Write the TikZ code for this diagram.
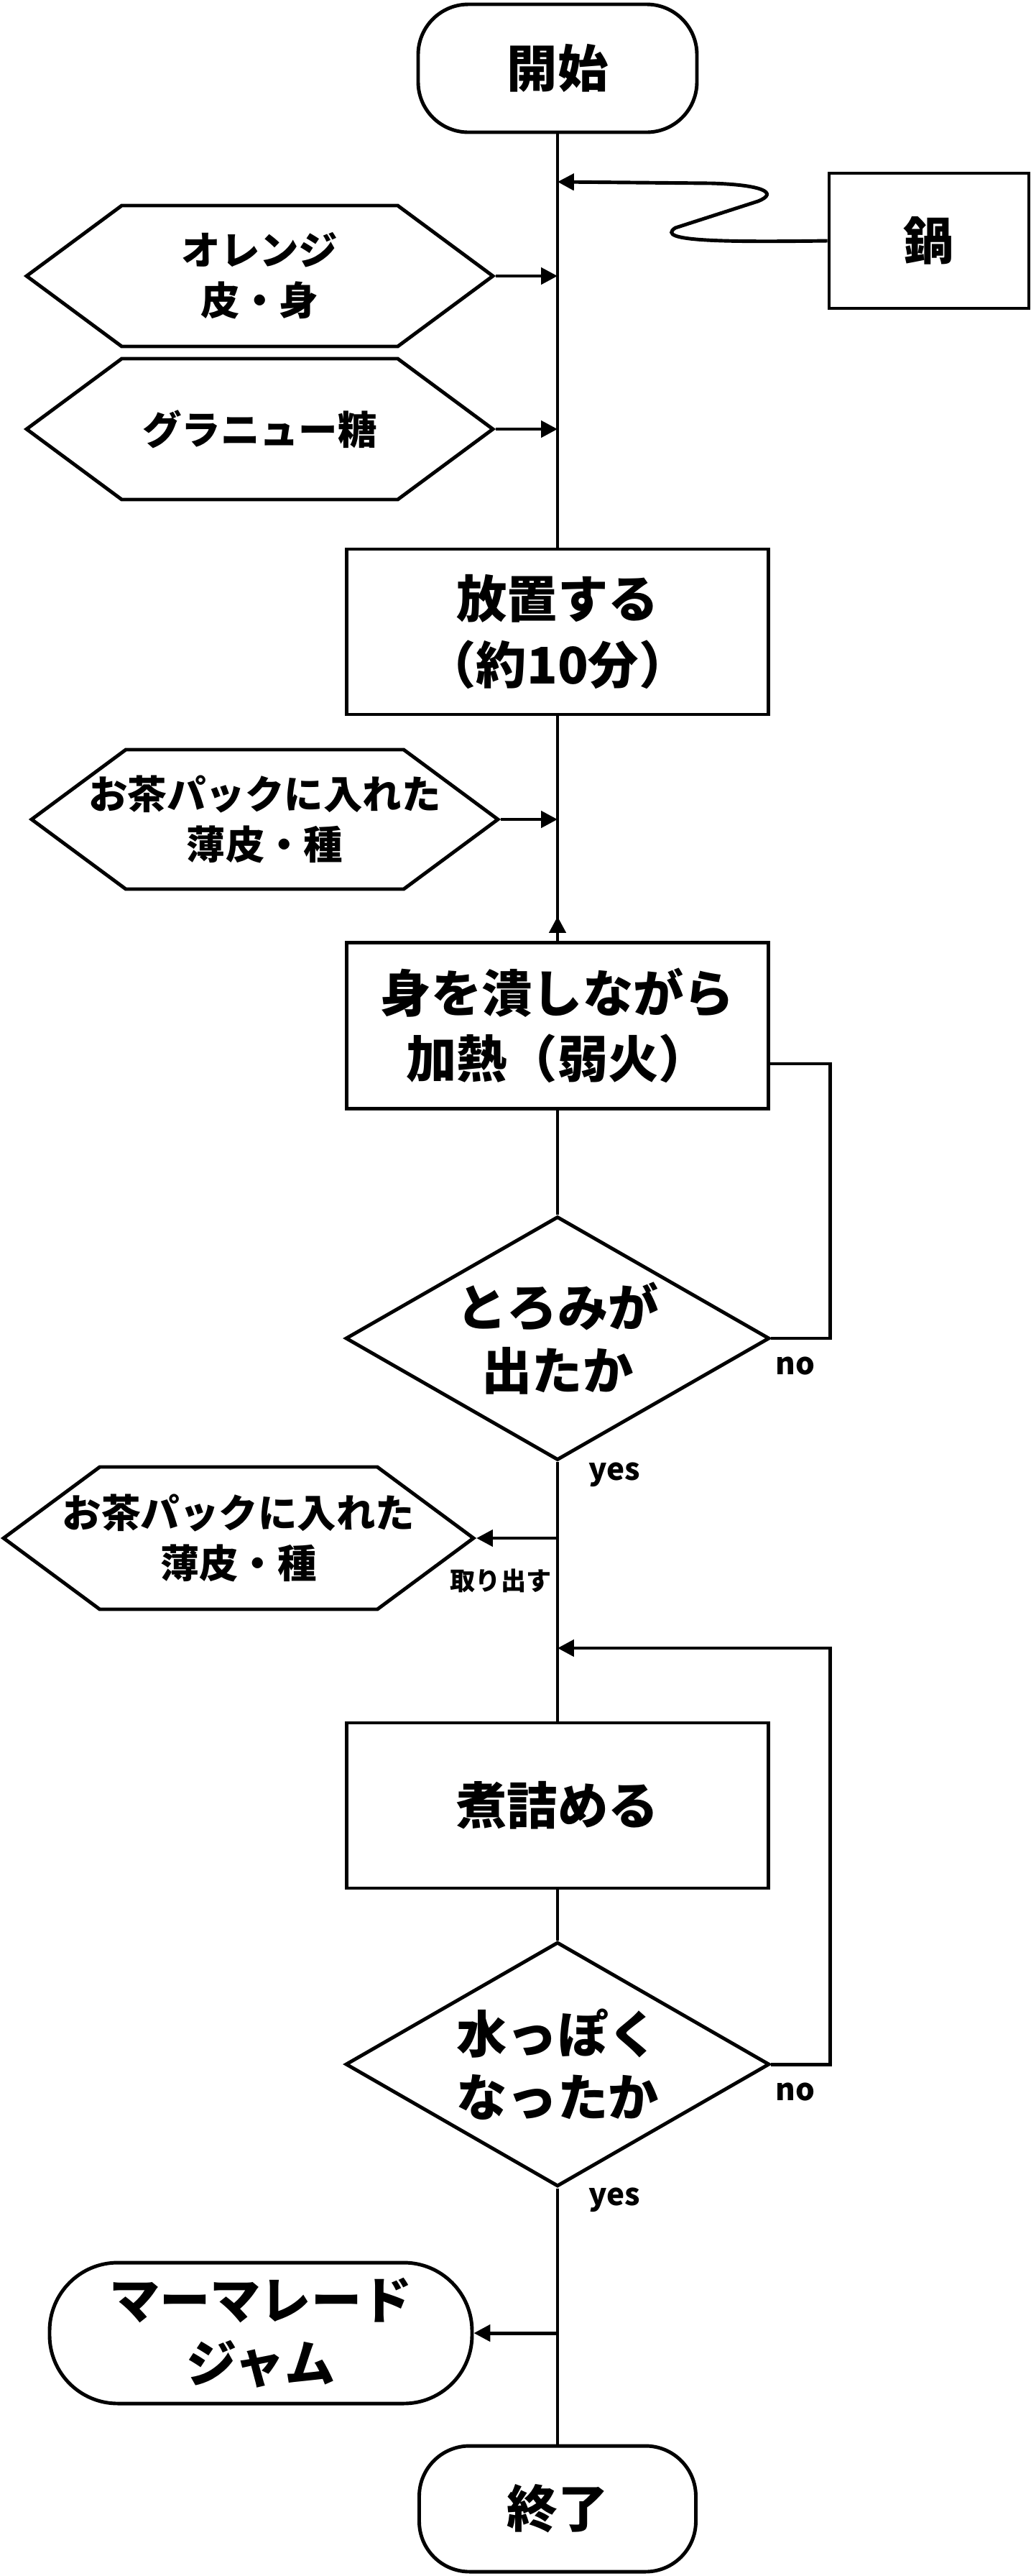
\documentclass[tikz,border=0pt]{standalone}
\usepackage{fontspec}
\setmainfont{Noto Sans CJK JP}
\usetikzlibrary{shapes.geometric,shapes.symbols,arrows.meta}
\begin{document}
\begin{tikzpicture}[
    line width=1.4pt,
    terminal/.style={rectangle, draw, rounded corners=0.7cm, minimum width=3.88cm, minimum height=1.78cm, align=center, font=\fontsize{20}{25}\selectfont\bfseries},
    process/.style={rectangle, draw, minimum width=5.87cm, minimum height=2.3cm, align=center, font=\fontsize{20}{26}\selectfont\bfseries},
    material/.style={signal, signal to=west and east, signal pointer angle=73, draw, inner xsep=-1.5cm, inner ysep=0pt, minimum width=6.49cm, minimum height=1.96cm, align=center, font=\fontsize{15.5}{20}\selectfont\bfseries},
    decision/.style={diamond, draw, aspect=1.74, inner sep=0pt, minimum width=5.9cm, minimum height=3.39cm, align=center, font=\fontsize{20}{25}\selectfont\bfseries},
    flow/.style={-{Triangle[length=6.5pt,width=6.5pt]}},
    lbl/.style={font=\fontsize{12}{14}\selectfont\bfseries}
]
\useasboundingbox (0,0) rectangle (14.34,-35.84);

% Terminals
\node[terminal] (start) at (7.76,-0.95) {開始};
\node[terminal, minimum width=3.85cm, minimum height=1.75cm] (end) at (7.76,-34.905) {終了};
\node[terminal, rounded corners=0.95cm, minimum width=5.88cm, minimum height=1.96cm] (jam) at (3.63,-32.46) {マーマレード\\ジャム};

% Pot
\node[process, minimum width=2.78cm, minimum height=1.88cm] (pot) at (12.93,-3.35) {鍋};

% Ingredients
\node[material] (orange) at (3.615,-3.84) {オレンジ\\皮・身};
\node[material] (sugar) at (3.615,-5.97) {グラニュー糖};
\node[material, minimum height=1.94cm] (bagin) at (3.685,-11.40) {お茶パックに入れた\\薄皮・種};
\node[material, minimum width=6.54cm, minimum height=1.98cm] (bagout) at (3.32,-21.40) {お茶パックに入れた\\薄皮・種};

% Steps
\node[process] (rest) at (7.76,-8.79) {放置する\\（約10分）};
\node[process, minimum height=2.31cm] (heat) at (7.76,-14.27) {身を潰しながら\\加熱（弱火）};
\node[process] (boil) at (7.76,-25.12) {煮詰める};

% Decisions
\node[decision] (thick) at (7.76,-18.62) {とろみが\\出たか};
\node[decision, minimum height=3.4cm] (watery) at (7.76,-28.72) {水っぽく\\なったか};

% Labels
\node[lbl] (no1) at (11.07,-19.00) {no};
\node[lbl] (yes1) at (8.55,-20.52) {yes};
\node[lbl] (no2) at (11.07,-29.10) {no};
\node[lbl] (yes2) at (8.55,-30.61) {yes};
\node[font=\fontsize{10}{12}\selectfont\bfseries] (takeout) at (6.97,-21.99) {取り出す};

% Points on the main line
\coordinate (potin) at (7.76,-2.53);
\coordinate (loopin) at (7.76,-22.93);

% Main line
\draw (start) -- (rest);
\draw (rest) -- (heat);
\draw[flow] (heat.north) -- ++(0,0.34);
\draw (heat) -- (thick);
\draw (thick) -- (boil);
\draw (boil) -- (watery);
\draw (watery) -- (end);

% Side flows
\draw[flow] (orange.east) -- (orange.east -| start);
\draw[flow] (sugar.east) -- (sugar.east -| start);
\draw[flow] (bagin.east) -- (bagin.east -| start);
\draw[flow] (bagout.east -| start) -- (bagout.east);
\draw[flow] (jam.east -| start) -- (jam.east);

% Loops
\draw (thick.east) -- ++(0.82,0) |- ([yshift=-0.53cm]heat.east);
\draw[flow] (watery.east) -- ++(0.82,0) |- (loopin);

% Pot
\draw[flow] (pot.west) .. controls (10.1,-3.37) and (9.1,-3.36) .. (9.4,-3.17) -- (10.55,-2.80) .. controls (10.85,-2.68) and (10.6,-2.57) .. (9.9,-2.55) -- (potin);

\end{tikzpicture}
\end{document}
